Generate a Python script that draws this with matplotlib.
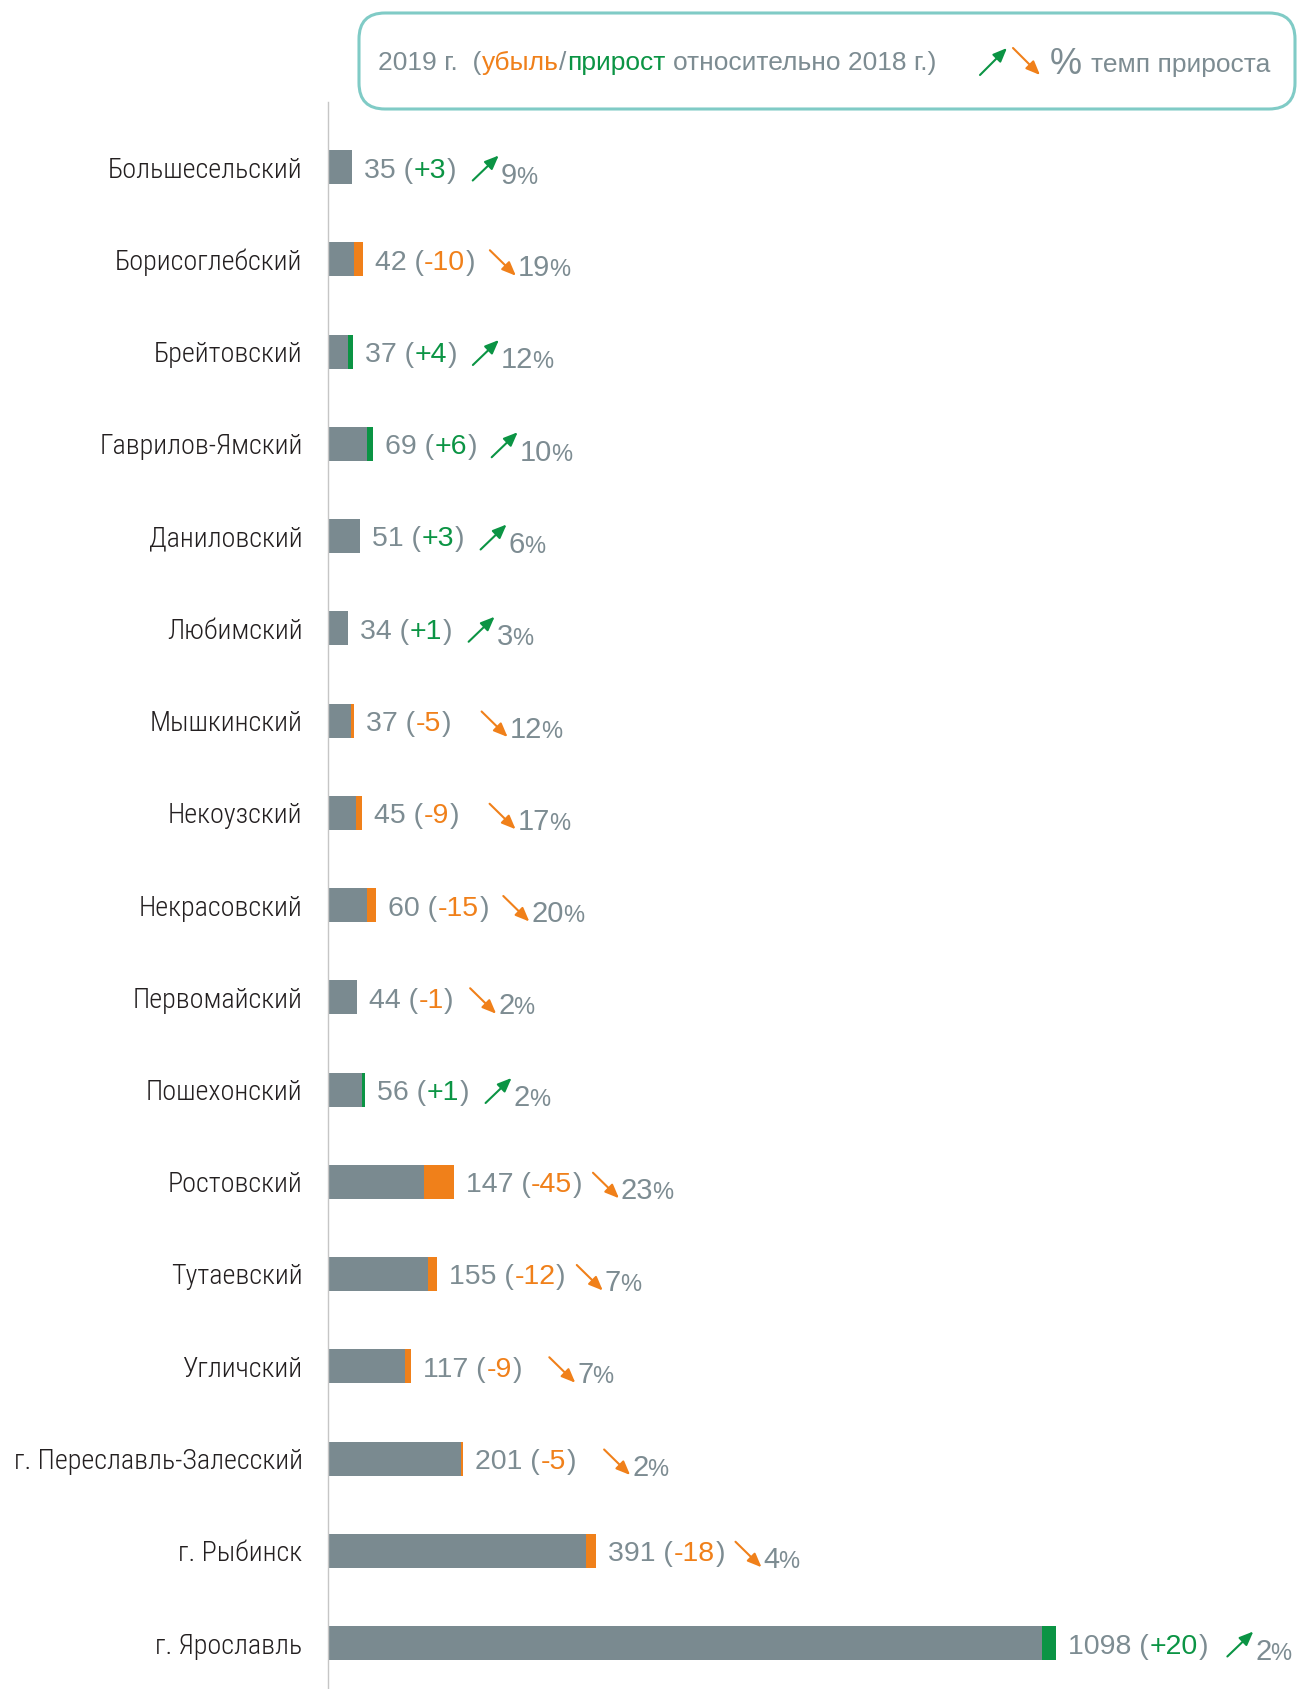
import matplotlib
matplotlib.use("Agg")
import matplotlib.pyplot as plt
from matplotlib.patches import FancyBboxPatch, FancyArrowPatch
from matplotlib.transforms import IdentityTransform
from matplotlib import font_manager
import numpy as np

# ---------------- data ----------------
districts = ["Большесельский", "Борисоглебский", "Брейтовский", "Гаврилов-Ямский",
             "Даниловский", "Любимский", "Мышкинский", "Некоузский", "Некрасовский",
             "Первомайский", "Пошехонский", "Ростовский", "Тутаевский", "Угличский",
             "г. Переславль-Залесский", "г. Рыбинск", "г. Ярославль"]
value_2019 = [35, 42, 37, 69, 51, 34, 37, 45, 60, 44, 56, 147, 155, 117, 201, 391, 1098]
change_vs_2018 = [3, -10, 4, 6, 3, 1, -5, -9, -15, -1, 1, -45, -12, -9, -5, -18, 20]
growth_pct = [9, 19, 12, 10, 6, 3, 12, 17, 20, 2, 2, 23, 7, 7, 2, 4, 2]
# bar segments as drawn in the picture (gray part and coloured part)
bar_base = [37, 40, 31, 60, 49, 31, 36, 43, 60, 44, 52, 145, 151, 117, 201, 388, 1075]
bar_delta = [0, -13, 7, 8.5, 0, 0, -4, -9, -13, 0, 4.5, -45, -13.5, -9, -3.5, -16.5, 21]

legend_parts = [("2019 г.  (", "gray"), ("убыль", "orange"), ("/", "gray"),
                ("прирост", "green"), (" относительно 2018 г.)", "gray")]
legend_rate = "темп прироста"

# ---------------- style / layout ----------------
W, H, DPI = 1309, 1689, 100
C_BAR = "#7a8a90"
C_TXT = "#7d8c92"
C_GREEN = "#0b9444"
C_ORANGE = "#f0801a"
C_LABEL = "#231f20"
C_BOX = "#80cbc6"
COL = {"gray": C_TXT, "green": C_GREEN, "orange": C_ORANGE}

installed = {f.name for f in font_manager.fontManager.ttflist}
label_candidates = ["Roboto Condensed", "Liberation Sans Narrow", "DejaVu Sans Condensed",
                    "Open Sans Condensed", "Roboto", "DejaVu Sans"]
LABEL_FONT = [f for f in label_candidates if f in installed] or ["DejaVu Sans"]
if "DejaVu Sans" not in LABEL_FONT:
    LABEL_FONT.append("DejaVu Sans")
VAL_FONT = ["Liberation Sans", "DejaVu Sans"]

AX_LEFT_PX = 327.5
AX_TOP_PX = 102
PX_PER_UNIT = 0.665
ROW0_PX = 167
ROW_STEP_PX = 92.25
BAR_H_PX = 34
LONG_LABEL_PX = 289  # width of the longest category label in the reference
arrow_gap_px = [16, 14, 15.5, 14, 16, 16, 30, 30, 14, 16, 16, 10, 11, 27, 27.5, 10, 19]

fig = plt.figure(figsize=(W / DPI, H / DPI), dpi=DPI)
fig.patch.set_facecolor("white")
renderer = fig.canvas.get_renderer()


def measure(s, size, family=VAL_FONT, weight="normal"):
    t = fig.text(0, 0, s, fontsize=size, family=family, fontweight=weight)
    w = t.get_window_extent(renderer).width
    t.remove()
    return w


LABEL_WEIGHT = 300
# pick label size so the longest label fits its reference width
longest = max(districts, key=lambda s: measure(s, 20, LABEL_FONT, LABEL_WEIGHT))
LABEL_SIZE = min(25.0, 20 * LONG_LABEL_PX / measure(longest, 20, LABEL_FONT, LABEL_WEIGHT))

n = len(districts)
ax = fig.add_axes([AX_LEFT_PX / W, 0, (W - AX_LEFT_PX) / W, (H - AX_TOP_PX) / H])
ax.set_xlim(0, (W - AX_LEFT_PX) / PX_PER_UNIT)
ax.set_ylim((H - ROW0_PX) / ROW_STEP_PX, (AX_TOP_PX - ROW0_PX) / ROW_STEP_PX)
ypos = np.arange(n)
bh = BAR_H_PX / ROW_STEP_PX

ax.barh(ypos, bar_base, height=bh, color=C_BAR, linewidth=0)
seg_colors = [C_GREEN if d > 0 else C_ORANGE for d in bar_delta]
ax.barh(ypos, np.abs(bar_delta), left=bar_base, height=bh, color=seg_colors, linewidth=0)

for s in ["top", "right", "bottom"]:
    ax.spines[s].set_visible(False)
ax.spines["left"].set_color("#c6c6c6")
ax.spines["left"].set_linewidth(1.0)
ax.set_xticks([])
ax.set_yticks(ypos)
ax.set_yticklabels(districts, family=LABEL_FONT, fontsize=LABEL_SIZE, color=C_LABEL,
                   fontweight=LABEL_WEIGHT)
ax.tick_params(axis="y", length=0, pad=18)


def text_px(x, ybase, s, color, size, family=VAL_FONT):
    t = fig.text(x / W, 1 - ybase / H, s, color=color, fontsize=size,
                 family=family, ha="left", va="baseline")
    return t.get_window_extent(renderer).x1


def space_w(size, family=VAL_FONT):
    return measure("0 0", size, family) - measure("00", size, family)


def rich(x, ybase, parts, size, family=VAL_FONT):
    sp = space_w(size, family)
    for s, c in parts:
        lead = len(s) - len(s.lstrip(" "))
        trail = len(s) - len(s.rstrip(" "))
        x += lead * sp
        core = s.strip(" ")
        if core:
            x = text_px(x, ybase, core, c, size, family) + 0.5
        x += trail * sp
    return x


def arrow(x0, y0, x1, y1, color):
    a = FancyArrowPatch((x0, H - y0), (x1, H - y1), transform=IdentityTransform(),
                        arrowstyle="-|>,head_length=0.6,head_width=0.25",
                        mutation_scale=14, color=color, lw=1.5,
                        shrinkA=0, shrinkB=0)
    fig.add_artist(a)


VAL_SIZE = 20.5
PCT_SIZE = 21
PCT_SIGN_SIZE = 17
AW = 26

for i in range(n):
    end = bar_base[i] + abs(bar_delta[i])
    xd, yd = ax.transData.transform((end, ypos[i]))
    yc = H - yd
    c = change_vs_2018[i]
    ccol = C_GREEN if c > 0 else C_ORANGE
    cstr = f"+{c}" if c > 0 else f"-{abs(c)}"
    x = rich(xd + 12, yc + 10.5,
             [(f"{value_2019[i]} (", C_TXT), (cstr, ccol), (")", C_TXT)], VAL_SIZE)
    a0 = x + arrow_gap_px[i]
    if c > 0:
        arrow(a0, yc + 13.5, a0 + AW, yc - 11.5, C_GREEN)
    else:
        arrow(a0, yc - 9, a0 + AW, yc + 16.5, C_ORANGE)
    px = a0 + AW + 2
    x = text_px(px, yc + 17, str(growth_pct[i]), C_TXT, PCT_SIZE)
    text_px(x - 1, yc + 17, "%", C_TXT, PCT_SIGN_SIZE)

# ---------------- legend box ----------------
box = FancyBboxPatch((359, H - 109), 936, 96, boxstyle="round,pad=0,rounding_size=26",
                     transform=IdentityTransform(), fc="none", ec=C_BOX, lw=2.2)
fig.add_artist(box)
rich(378, 70, [(s, COL[c]) for s, c in legend_parts], 19)
arrow(980, 75, 1007, 48, C_GREEN)
arrow(1013, 48, 1040, 75, C_ORANGE)
x = text_px(1050, 74, "%", C_TXT, 26)
text_px(x + 9, 72, legend_rate, C_TXT, 19)

fig.savefig("out.png", dpi=DPI, facecolor="white")
